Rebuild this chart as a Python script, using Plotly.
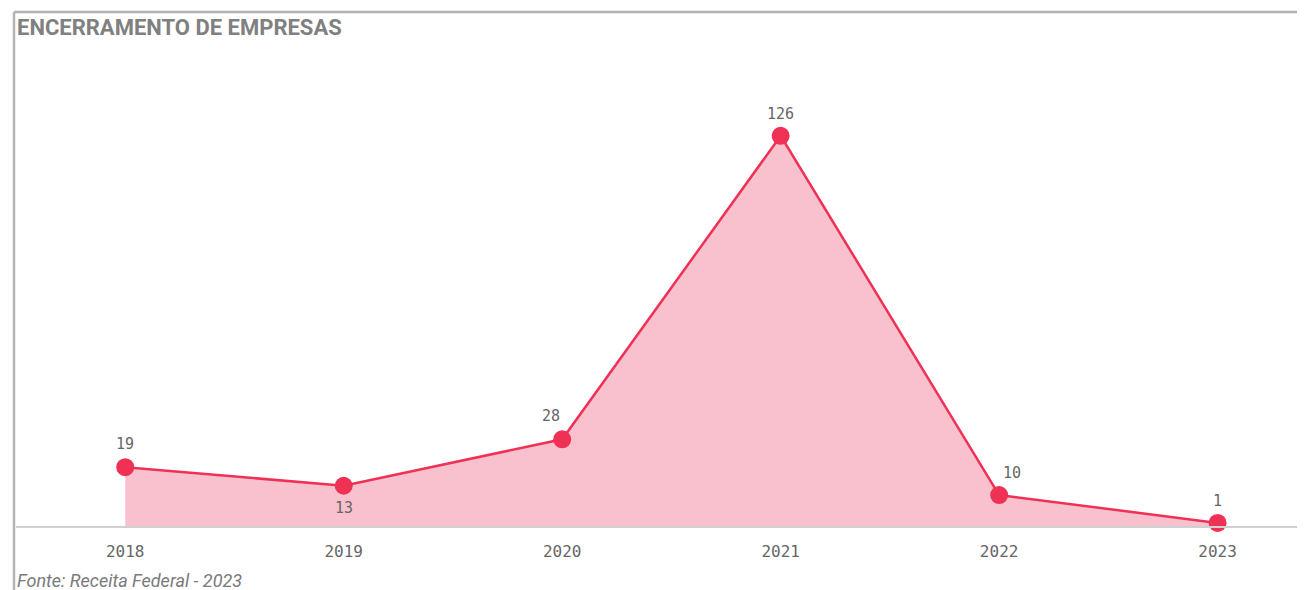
import plotly.graph_objects as go

years = ["2018", "2019", "2020", "2021", "2022", "2023"]
values = [19, 13, 28, 126, 10, 1]
label_dx = [0, 0, -11, 0, 13, 0]
label_dy = [23, -22, 23, 22, 22, 22]

xs = list(range(len(years)))
line_color = "#ef3156"
fill_color = "#f9c1cd"

fig = go.Figure()
fig.add_trace(go.Scatter(
    x=xs, y=values, mode="lines+markers",
    fill="tozeroy", fillcolor=fill_color,
    line=dict(color=line_color, width=2.5),
    marker=dict(color=line_color, size=18),
    hoverinfo="skip", showlegend=False, cliponaxis=False,
))

for xv, v, dx, dy in zip(xs, values, label_dx, label_dy):
    fig.add_annotation(x=xv, y=v, text=str(v), showarrow=False,
                       xshift=dx, yshift=dy, xanchor="center", yanchor="middle",
                       font=dict(family="DejaVu Sans Mono", size=15, color="#666666"))

# page body adds an 8px offset; size figure so it fills the 1305x590 window
OFF = 8
W, H = 1305 - OFF, 590 - OFF
ml, mr, mt, mb = 16 - OFF, 0, 60 - OFF, 64
pw, ph = W - ml - mr, H - mt - mb

fig.update_layout(
    width=W, height=H,
    margin=dict(l=ml, r=mr, t=mt, b=mb),
    paper_bgcolor="white", plot_bgcolor="white",
    xaxis=dict(tickmode="array", tickvals=xs, ticktext=years, range=[-0.5, 5.4],
               showgrid=False, zeroline=False, showline=True, linecolor="#d0d0d0", linewidth=1.5,
               ticks="", ticklen=0, ticklabelstandoff=10,
               tickfont=dict(family="DejaVu Sans Mono", size=16, color="#666666")),
    yaxis=dict(range=[0, 150.5], visible=False, showgrid=False, zeroline=False),
    font=dict(family="Roboto"),
)

def px_x(p):
    return (p - OFF - ml) / pw
def px_y(p):
    return (H - mb - (p - OFF)) / ph

# frame (top and left)
fig.add_shape(type="line", xref="paper", yref="paper",
              x0=px_x(14), x1=px_x(1305), y0=px_y(12), y1=px_y(12),
              line=dict(color="#b3b3b3", width=2.5))
fig.add_shape(type="line", xref="paper", yref="paper",
              x0=px_x(14), x1=px_x(14), y0=px_y(12), y1=px_y(592),
              line=dict(color="#b3b3b3", width=2.5))

fig.add_annotation(text="<b>ENCERRAMENTO DE EMPRESAS</b>", xref="paper", yref="paper",
                   x=px_x(15), y=px_y(28), xanchor="left", yanchor="middle", showarrow=False,
                   font=dict(family="Roboto", size=22, color="#808080"))
fig.add_annotation(text="<i>Fonte: Receita Federal - 2023</i>", xref="paper", yref="paper",
                   x=px_x(15), y=px_y(580), xanchor="left", yanchor="middle", showarrow=False,
                   font=dict(family="Roboto", size=18, color="#7a7a7a"))

fig.write_html("out.html")
